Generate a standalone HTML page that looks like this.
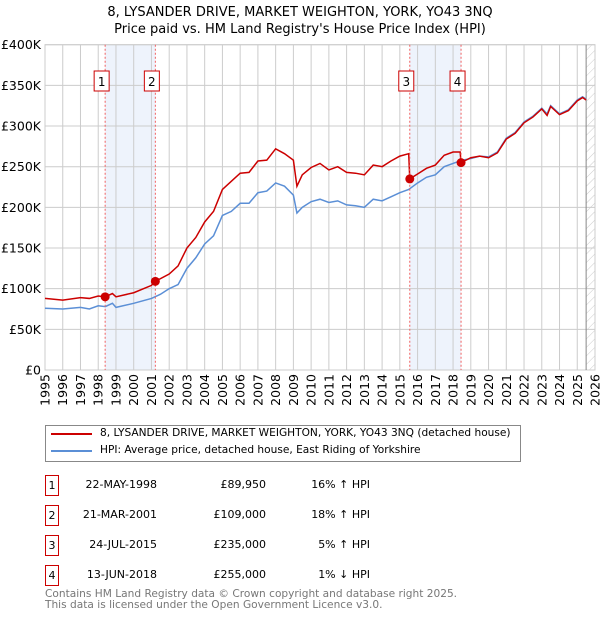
<!DOCTYPE html>
<html><head><meta charset="utf-8">
<style>
body{margin:0;background:#fff;font-family:"Liberation Sans","DejaVu Sans",sans-serif;}
#wrap{position:relative;width:600px;height:620px;overflow:hidden;}
.t{position:absolute;font-size:11px;color:#000;white-space:nowrap;font-family:'DejaVu Sans',sans-serif;}
</style></head><body>
<div id="wrap">
<svg id="chart" width="600" height="420" style="position:absolute;left:0;top:0">
<text x="300" y="16" text-anchor="middle" font-size="13" font-family="DejaVu Sans, sans-serif">8, LYSANDER DRIVE, MARKET WEIGHTON, YORK, YO43 3NQ</text>
<text x="300" y="33" text-anchor="middle" font-size="13" font-family="DejaVu Sans, sans-serif">Price paid vs. HM Land Registry's House Price Index (HPI)</text>
<defs><pattern id="hatch" width="6" height="6" patternUnits="userSpaceOnUse" patternTransform="rotate(45)"><line x1="0" y1="0" x2="0" y2="6" stroke="#ccc" stroke-width="1"/></pattern></defs>
<g id="g"></g>
</svg>
<div style="position:absolute;left:45px;top:425px;width:474px;height:35px;border:1px solid #888;">
 <div style="position:absolute;left:5px;top:7px;width:41px;height:2px;background:#cc0000"></div>
 <div class="t" style="left:54px;top:1px;font-size:10.6px">8, LYSANDER DRIVE, MARKET WEIGHTON, YORK, YO43 3NQ (detached house)</div>
 <div style="position:absolute;left:5px;top:24px;width:41px;height:2px;background:#5b8fd6"></div>
 <div class="t" style="left:54px;top:18px;font-size:10.6px">HPI: Average price, detached house, East Riding of Yorkshire</div>
</div>
<div id="tbl"></div>
<div class="t" style="left:45px;top:589px;color:#777;font-size:10.6px;line-height:10.5px">Contains HM Land Registry data © Crown copyright and database right 2025.<br>This data is licensed under the Open Government Licence v3.0.</div>
</div>
<script>
const yTicks=[0,50,100,150,200,250,300,350,400];
const yTickLabels=["£0","£50K","£100K","£150K","£200K","£250K","£300K","£350K","£400K"];
const years=[1995,1996,1997,1998,1999,2000,2001,2002,2003,2004,2005,2006,2007,2008,2009,2010,2011,2012,2013,2014,2015,2016,2017,2018,2019,2020,2021,2022,2023,2024,2025,2026];
const hpiT=[1995,1996,1997,1997.5,1998,1998.4,1998.8,1999,2000,2001,2001.5,2002,2002.5,2003,2003.5,2004,2004.5,2005,2005.5,2006,2006.5,2007,2007.5,2008,2008.5,2009,2009.2,2009.5,2010,2010.5,2011,2011.5,2012,2012.5,2013,2013.5,2014,2014.5,2015,2015.5,2016,2016.5,2017,2017.5,2018,2018.5,2019,2019.5,2020,2020.5,2021,2021.5,2022,2022.5,2023,2023.3,2023.5,2024,2024.5,2025,2025.3,2025.5];
const hpiV=[76,75,77,75,79,78,82,77,82,88,93,100,105,125,138,155,165,190,195,205,205,218,220,230,226,215,193,200,207,210,206,208,203,202,200,210,208,213,218,222,230,237,240,250,254,258,260,263,262,268,285,292,305,312,322,315,325,315,320,332,336,333];
const redT=[1995,1996,1997,1997.5,1998,1998.39,1998.8,1999,2000,2001,2001.22,2002,2002.5,2003,2003.5,2004,2004.5,2005,2005.5,2006,2006.5,2007,2007.5,2008,2008.5,2009,2009.2,2009.5,2010,2010.5,2011,2011.5,2012,2012.5,2013,2013.5,2014,2014.5,2015,2015.5,2015.56,2016,2016.5,2017,2017.5,2018,2018.4,2018.45,2019,2019.5,2020,2020.5,2021,2021.5,2022,2022.5,2023,2023.3,2023.5,2024,2024.5,2025,2025.3,2025.5];
const redV=[88,86,89,88,91,89.95,94,90,95,104,109,118,128,150,163,182,195,222,232,242,243,257,258,272,266,258,226,240,249,254,246,250,243,242,240,252,250,257,263,266,235,241,248,252,264,268,268,255,261,263,261,267,284,291,304,311,321,313,324,314,319,331,335,332];
const saleT=[1998.39,2001.22,2015.56,2018.45];
const saleV=[89.95,109,235,255];
const saleLbl=["1","2","3","4"];
const saleDates=["22-MAY-1998","21-MAR-2001","24-JUL-2015","13-JUN-2018"];
const salePrices=["£89,950","£109,000","£235,000","£255,000"];
const saleHpi=["16% ↑ HPI","18% ↑ HPI","5% ↑ HPI","1% ↓ HPI"];
const X0=45,X1=595,Y0=370,Y1=44.7;
const xs=t=>X0+(t-1995)/(2026-1995)*(X1-X0);
const ys=v=>Y0-v/400*(Y0-Y1);
const NS="http://www.w3.org/2000/svg";
const g=document.getElementById('g');
function mk(tag,attrs,name){const e=document.createElementNS(NS,tag);for(const k in attrs)e.setAttribute(k,attrs[k]);


g.appendChild(e);return e;}
for(let i=0;i<2;i++){mk('rect',{x:xs(saleT[2*i]),y:Y1,width:xs(saleT[2*i+1])-xs(saleT[2*i]),height:Y0-Y1,fill:'#eef3fc'},'sale-band');}
mk('rect',{x:xs(2025.5),y:Y1,width:X1-xs(2025.5),height:Y0-Y1,fill:'url(#hatch)'},'forecast-hatch');
years.forEach(y=>{mk('line',{x1:xs(y),x2:xs(y),y1:Y1,y2:Y0,stroke:'#ccc','stroke-width':1},'x-grid-line');
const t=mk('text',{x:0,y:0,transform:`translate(${xs(y)+4.5},${Y0+4}) rotate(-90)`,'text-anchor':'end','font-size':12.5,'font-family':'DejaVu Sans, sans-serif'},'x-tick-label');t.textContent=y;});
yTicks.forEach((v,i)=>{mk('line',{x1:X0,x2:X1,y1:ys(v),y2:ys(v),stroke:'#ccc','stroke-width':1},'y-grid-line');
const t=mk('text',{x:X0-4,y:ys(v)+4.5,'text-anchor':'end','font-size':12.5,'font-family':'DejaVu Sans, sans-serif'},'y-tick-label');t.textContent=yTickLabels[i];});
mk('rect',{x:X0,y:Y1,width:X1-X0,height:Y0-Y1,fill:'none',stroke:'#ccc'},'plot-border');
mk('line',{x1:xs(2025.5),x2:xs(2025.5),y1:Y1,y2:Y0,stroke:'#888'},'latest-data-line');
mk('polyline',{points:hpiT.map((t,i)=>xs(t)+','+ys(hpiV[i])).join(' '),fill:'none',stroke:'#5b8fd6','stroke-width':1.5},'hpi-line');
mk('polyline',{points:redT.map((t,i)=>xs(t)+','+ys(redV[i])).join(' '),fill:'none',stroke:'#cc0000','stroke-width':1.5},'property-price-line');
saleT.forEach((t,i)=>{
mk('line',{x1:xs(t),x2:xs(t),y1:Y1,y2:Y0,stroke:'#f06060','stroke-dasharray':'2,2','stroke-width':1},'sale-marker-line');
mk('circle',{cx:xs(t),cy:ys(saleV[i]),r:4.5,fill:'#cc0000'},'sale-point');
mk('rect',{x:xs(t)-11,y:71,width:15,height:20,fill:'#fff',stroke:'#cc0000'},'sale-label-box');
const tx=mk('text',{x:xs(t)-3.5,y:86,'text-anchor':'middle','font-size':12,'font-family':'DejaVu Sans, sans-serif'},'sale-label');tx.textContent=saleLbl[i];});
const tbl=document.getElementById('tbl');
const rowTops=[475,505,535,565];
saleT.forEach((t,i)=>{const r=document.createElement('div');


const top=rowTops[i];
r.innerHTML=`<div style="position:absolute;left:45px;top:${top}px;width:12px;height:19px;border:1px solid #cc0000;font-size:11px;text-align:center;line-height:19px;font-family:'DejaVu Sans',sans-serif">${saleLbl[i]}</div>
<div class="t" style="left:60px;width:97px;text-align:right;top:${top+3}px">${saleDates[i]}</div>
<div class="t" style="left:180px;width:86px;text-align:right;top:${top+3}px">${salePrices[i]}</div>
<div class="t" style="left:280px;width:90px;text-align:right;top:${top+3}px">${saleHpi[i]}</div>`;
tbl.appendChild(r);});
</script>
</body></html>
